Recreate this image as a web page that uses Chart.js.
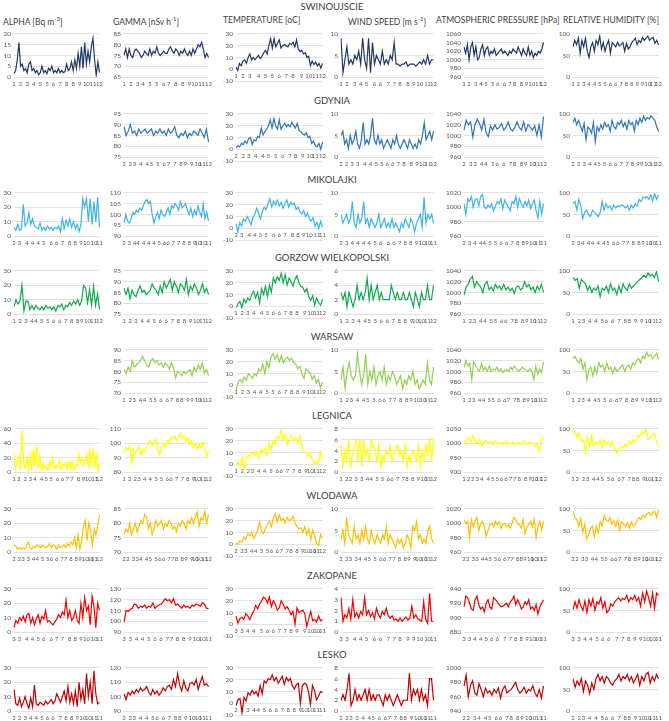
<!DOCTYPE html>
<html>
<head>
<meta charset="utf-8">
<script src="https://cdn.jsdelivr.net/npm/chart.js@4.4.1/dist/chart.umd.min.js"></script>
<style>
  body { margin: 0; background: #fff; width: 669px; height: 721px; position: relative; overflow: hidden;
         font-family: Lato, "Open Sans", sans-serif; color: #404040; }
  .hdr { position: absolute; top: 15px; font-size: 8.5px; white-space: nowrap; }
  .hdr sup { font-size: 6px; }
  .stn { position: absolute; left: 0; width: 664px; text-align: center; font-size: 9.5px; }
  canvas { position: absolute; }
</style>
</head>
<body>
<div class="hdr" style="left:3px">ALPHA [Bq m<sup>-3</sup>]</div>
<div class="hdr" style="left:113px">GAMMA [nSv h<sup>-1</sup>]</div>
<div class="hdr" style="left:223px">TEMPERATURE [oC]</div>
<div class="hdr" style="left:348px">WIND SPEED [m s<sup>-1</sup>]</div>
<div class="hdr" style="left:436px">ATMOSPHERIC PRESSURE [hPa]</div>
<div class="hdr" style="left:563px">RELATIVE HUMIDITY [%]</div>
<script>
const stations = ["SWINOUJSCIE", "GDYNIA", "MIKOLAJKI", "GORZOW WIELKOPOLSKI", "WARSAW", "LEGNICA", "WLODAWA", "ZAKOPANE", "LESKO"];
const colors = ["#203864", "#2e75b6", "#3db4e6", "#12a84e", "#92d050", "#ffff00", "#ffc000", "#f00000", "#c00000"];

// y axis [min, max, step] per column: alpha, gamma, temp, wind, pressure, humidity
const swiRanges = [[0,20,5],[65,85,5],[-10,30,10],[0,10,5],[960,1060,20],[0,100,50]];
const gdyRanges = [null,[75,95,5],[-10,30,10],[0,10,5],[960,1040,20],[0,100,50]];
const mikRanges = [[0,30,10],[90,110,5],[-10,30,10],[0,10,5],[960,1020,20],[0,100,50]];
const gorRanges = [[0,30,10],[75,95,5],[-10,30,10],[0,6,2],[960,1040,20],[0,100,50]];
const warRanges = [null,[70,90,5],[-10,30,10],[0,10,5],[960,1040,20],[0,100,50]];
const legRanges = [[0,60,20],[80,110,10],[-10,30,10],[0,8,2],[900,1050,50],[0,100,50]];
const wloRanges = [[0,30,10],[70,85,5],[-10,30,10],[0,10,5],[960,1020,20],[0,100,50]];
const zakRanges = [[0,30,10],[90,130,10],[-10,30,10],[0,4,1],[880,940,20],[0,100,50]];
const lesRanges = [[0,30,10],[90,120,10],[-10,30,10],[0,8,2],[940,1000,20],[0,100,50]];

// SWINOUJSCIE
const swiAlpha = [1.5,3,8,16,5,6,3,4,2,6,7,3,4,2,3,1,2,5,2,3,1.5,4,3,5,2,3,2,4,2,3,2,2.5,6,3,4,7,3,8,4,11,5,14,4,16,6,12,7,14,18,8,1,7,2];
const swiGamma = [75,78,74,78,75,74,77,78,77,76,74,75,77,76,75,78,75,77,76,79,76,75,76,77,76,76,78,79,77,76,78,77,75,77,76,78,76,75,77,75,78,76,78,80,79,81,78,74,76,74];
const swiTemp = [2,-1,5,3,7,8,5,10,13,8,10,8,10,12,9,11,14,16,13,20,26,18,26,19,22,25,18,20,21,20,19,22,21,23,19,25,17,15,16,13,14,10,11,3,7,4,6,3,5,1,5];
const swiWind = [9,1,4,7,3,4,3,5,4,6,3,9,4,2,9,1,8,3,5,4,3,6,3,4,3,5,4,8,3,3,2.5,3,3,3.5,2.5,3,3,3,2.5,3,3.5,3,4,3,5,3,4,4];
const swiPress = [1030,1015,1035,1000,1030,1040,1010,1030,1000,1005,1025,1035,1010,1025,1030,1010,1020,1015,1025,1010,1015,1020,1025,1015,1020,1015,1010,1020,1015,1025,1020,1015,1030,1020,1010,1025,1015,1010,1030,1010,1020,1005,1015,1010,1020,1015,1025,1040];
const swiHum = [70,85,75,90,55,85,70,90,60,45,70,80,60,85,75,95,65,80,60,75,85,55,80,75,70,80,72,75,80,60,78,65,70,80,85,90,75,85,80,92,85,90,95,85,90,92,78,85,75];
const swiAlphaX = "1 2 3 4 5 5 6 7 8 8 9 10 11 12";
const swiGammaX = "1 2 3 4 5 5 6 7 8 8 9 10 11 12";
const swiTempX = "1 2 3 4 5 5 6 7 8 9 10 11 12";
const swiWindX = "1 2 3 4 5 6 6 7 7 8 8 9 10 11 12";
const swiPressX = "1 2 3 4 5 5 6 6 7 8 8 9 10 11 12";
const swiHumX = "1 2 3 4 4 5 5 6 6 7 8 8 9 9 10 11 12";

// GDYNIA
const gdyGamma = [89,85,87,90,86,87,85,88,86,87,88,86,87,88,85,87,86,88,86,87,85,88,86,87,89,85,84,86,85,87,84,86,85,87,86,85,88,86,84,88,82];
const gdyTemp = [1,3,2,5,4,7,5,9,10,4,8,7,11,10,18,12,15,17,20,25,18,26,20,17,25,17,20,22,19,21,19,23,20,18,22,16,15,13,12,14,10,11,5,7,3,2,5,0,6];
const gdyWind = [5,6,3,4,2,5,3,4,6,3,2,4,8,3,4,3,5,9,4,3,5,3,4,2,3,4,3,2,4,3,5,3,2,3,4,3,2,4,3,2,3,2,4,3,5,8,4,5,6,4,6];
const gdyPress = [1010,1028,1020,1025,997,1020,1030,1022,1010,1030,1005,998,1018,1010,1020,1012,1015,1022,1010,1015,1025,1012,1008,1015,1025,1015,1010,1025,1008,1020,1015,1010,1018,1000,1020,997,1035];
const gdyHum = [80,90,75,85,72,60,78,40,70,65,55,80,36,70,60,75,65,80,70,75,60,85,70,65,80,75,85,70,80,65,85,75,80,60,85,75,90,80,95,85,92,88,95,90,85,70,60];
const gdyGammaX = "2 2 3 4 4 5 5 6 7 7 8 9 9 10 11 12";
const gdyTempX = "2 2 3 4 4 5 5 6 7 8 9 10 11 12";
const gdyWindX = "2 2 3 3 4 4 5 5 6 6 7 8 8 9 10 11 12";
const gdyPressX = "2 3 3 4 4 5 6 6 7 8 8 9 10 11 12";
const gdyHumX = "2 2 3 4 4 5 5 6 6 7 7 8 9 9 10 11 12";

// MIKOLAJKI
const mikAlpha = [6,4,8,4,5,22,7,9,16,8,12,7,6,5,9,4,6,4,7,5,6,4,6,5,7,3,12,5,11,7,12,6,10,5,8,3,8,26,20,26,10,26,8,24,10,27,6];
const mikGamma = [96,100,97,96,98,101,100,102,101,103,102,104,106,107,105,106,100,96,99,101,98,102,100,99,101,103,100,104,103,105,104,102,106,103,104,105,102,100,103,99,102,100,104,101,99,105,98,101,97];
const mikTemp = [4,-3,5,2,8,6,10,7,3,9,12,17,13,8,14,18,16,21,25,18,23,20,24,19,22,17,21,24,18,22,20,21,16,18,14,12,15,10,13,8,6,9,2,5,0,6,1];
const mikWind = [5,3,4,5,3,4,8,3,2,5,3,4,8,3,4,2,4,3,2,3,5,2,3,4,2,3,2,4,2,3,2,1,3,2,4,3,2,4,3,1,3,4,5,2,9,3,5,4,5,3];
const mikPress = [1005,990,1012,1008,1015,1000,1010,1012,1002,1015,1018,1000,998,1003,1000,1005,995,1002,1008,1005,1012,998,1010,1005,1000,995,1008,1005,1015,1000,1012,1005,1000,1008,1002,1010,998,1005,1010,995,985,1008,990,1005];
const mikHum = [75,80,60,85,70,40,55,60,50,45,60,55,50,45,55,80,60,75,65,70,60,72,65,70,68,72,70,65,70,60,72,65,75,70,85,80,90,88,92,85,95,82,98,85,95];
const mikAlphaX = "2 3 4 4 4 5 6 6 7 8 8 9 10 10 11";
const mikGammaX = "2 3 4 4 4 4 4 5 6 6 7 7 8 8 9 10 10 11";
const mikTempX = "2 3 4 4 5 5 6 6 7 8 8 9 10 11 11";
const mikWindX = "2 3 4 4 4 4 5 6 6 6 7 8 8 9 10 10 11";
const mikPressX = "2 3 4 4 4 5 5 6 6 7 8 8 9 10 11 11";
const mikHumX = "2 3 4 4 4 4 4 5 6 6 7 7 8 8 9 10 10 11";

// GORZOW WIELKOPOLSKI
const gorAlpha = [5,10,7,9,20,2,9,9,3,6,3,6,4,3,5,3,6,4,5,3,5,2,6,5,7,3,6,5,8,6,9,7,10,6,9,20,18,8,17,6,19,6,14,3];
const gorGamma = [87,84,87,82,86,84,83,86,88,85,86,84,85,86,89,87,86,84,88,85,90,87,89,91,86,90,88,85,89,88,86,91,84,88,86,89,87,84,86,89,85,87,84];
const gorTemp = [-1,2,4,-1,6,3,7,5,10,13,7,12,3,15,10,17,8,18,12,24,20,25,22,28,20,27,18,24,21,17,23,26,20,17,16,12,15,8,5,9,1,7,3,1,6];
const gorWind = [3,2,3,1,3,2,1,2,4,2,3,2,3,5,2,4,2,3,4,2,3,2,2,2,2,4,3,2,3,2,2,3,2,2,3,2,1,3,2,1,3,2,2,4,2,2,4];
const gorPress = [995,1010,1015,1025,1030,1010,1020,1015,1010,1000,1015,1020,1005,1010,1003,1015,1008,1012,1005,1015,1005,1010,1003,1008,998,1010,1012,1005,1008,1020,1010,1015,1005,1010,1000,1012,1005,1015,1000];
const gorHum = [85,78,82,60,80,75,70,55,65,50,60,55,65,40,60,55,65,50,70,55,60,45,65,50,70,60,55,70,60,65,70,75,80,85,90,85,95,88,92,85,98,75];
const gorAlphaX = "1 2 3 4 4 5 5 6 6 7 8 8 9 10 11 12";
const gorGammaX = "1 2 3 4 4 5 6 6 7 8 8 9 10 11 12";
const gorTempX = "1 2 3 4 4 5 6 6 7 8 8 9 10 11 12";
const gorWindX = "1 2 3 4 4 5 5 6 6 7 8 8 9 10 10 11 12";
const gorPressX = "1 2 3 4 4 5 5 6 6 7 8 8 9 10 11 12";
const gorHumX = "1 2 3 4 4 5 6 6 7 8 8 9 9 10 11 12";

// WARSAW
const warGamma = [81,79,82,80,85,82,83,84,85,87,85,83,82,85,86,84,85,83,84,82,84,83,81,84,82,77,80,79,78,80,79,80,81,78,82,80,83,81,84,79,81,78];
const warTemp = [-5,3,5,2,7,4,10,8,6,10,8,14,12,18,10,20,15,24,27,22,26,20,25,19,22,24,21,23,19,18,14,16,10,6,14,12,10,5,8,2,5,-2,3];
const warWind = [3,6,1,5,7,4,3,4,9,5,2,4,9,2,5,3,6,2,4,5,3,6,2,4,3,5,4,2,3,4,1,3,2,4,3,5,2,3,1,2,3,2,7,3,2,6];
const warPress = [1008,1020,1010,1015,985,1018,1010,1005,1000,1015,1002,1008,1000,1010,1000,1005,1002,1008,1000,1005,998,1002,1003,1000,1008,1003,1010,1005,1000,1003,1008,1005,1002,1000,1005,1000,985,1010,995,1005,998,1018];
const warHum = [80,85,75,70,80,55,70,30,55,60,40,60,45,70,60,65,50,70,55,60,45,60,50,55,60,65,50,60,65,55,70,65,75,80,70,85,80,95,85,90,80,85,92,78];
const warGammaX = "1 2 3 4 4 5 5 6 6 7 8 8 9 9 10 11 12";
const warTempX = "1 2 3 4 4 5 5 6 7 8 8 9 10 11 12";
const warWindX = "1 2 3 4 4 5 5 6 6 7 7 8 8 9 10 10 11 12";
const warPressX = "1 2 3 4 4 5 5 6 6 7 7 8 8 9 10 11 12";
const warHumX = "1 2 3 4 4 5 5 6 6 7 8 8 9 9 10 11 12";

// LEGNICA
const legAlpha = [28,5,15,22,2,58,12,5,20,3,25,3,32,8,38,5,22,3,12,5,9,3,14,7,20,5,10,6,15,4,12,8,13,4,14,5,16,3,10,8,25,12,20,8,14,25,8,30,10,33,5,28,2,12];
const legGamma = [93,97,95,98,86,96,93,95,98,92,96,94,97,100,102,98,101,103,96,92,98,100,97,102,101,104,103,105,102,104,107,103,105,101,104,99,102,97,100,96,99,97,101,95,91,95];
const legTemp = [-1,2,-2,6,-4,5,8,6,10,7,11,5,13,10,14,8,18,12,20,17,24,22,29,20,25,17,22,24,20,23,18,24,16,11,9,7,10,4,1,3,0,11,4];
const legWind = [5,1,4,2,6,1,3,5,6,2,6,1,6,3,4,2,6,5,4,2,5,1,3,2,4,3,5,2,3,4,5,3,4,2,5,1,3,2,4,3,2,5,1,4,2,5,3,6,2,6];
const legPress = [1010,1000,1020,1005,1025,1010,1000,1015,990,1005,1010,1000,1005,995,1010,1000,998,1003,995,1008,1000,998,1005,995,1002,1000,995,1010,1003,995,1005,998,990,1000,975,1010,1025];
const legHum = [90,95,80,90,70,75,45,80,60,85,60,70,65,75,55,75,65,72,60,70,55,45,50,60,55,65,60,72,65,75,70,85,80,95,90,100,75,80,85,90,70,60];
const legAlphaX = "1 2 2 3 4 4 5 5 6 6 7 7 8 9 10 11 12";
const legGammaX = "1 2 2 3 4 4 5 5 6 6 7 7 8 9 10 11 12";
const legTempX = "1 2 2 3 4 4 5 6 6 7 7 8 9 10 11 12";
const legWindX = "1 2 2 3 3 4 4 5 5 6 6 7 7 8 8 9 10 11 12";
const legPressX = "1 2 2 3 4 4 5 5 6 6 7 7 8 8 9 10 11 12";
const legHumX = "1 2 2 3 4 4 5 5 6 6 7 7 8 8 9 10 11 12";

// WLODAWA
const wloAlpha = [5,4,2,3,2,3,2,4,7,3,2,4,3,5,4,3,5,4,3,4,6,3,5,4,2,5,3,4,5,3,6,4,7,5,10,3,12,2,8,18,22,8,20,15,5,16,12,18,26];
const wloGamma = [76,78,77,80,76,78,80,77,79,81,80,83,82,78,80,76,78,81,79,80,81,78,80,79,81,80,78,79,77,80,79,81,80,78,81,80,82,80,82,84,79,82,81,84,80,83];
const wloTemp = [1,0,3,2,6,4,9,7,10,5,8,12,19,11,9,14,17,20,15,22,26,19,25,20,22,18,23,20,21,24,18,15,13,14,10,15,8,13,4,12,7,1,-1,8,5];
const wloWind = [3,5,2,8,4,3,2,6,3,4,2,5,3,6,3,2,5,3,2,4,3,2,4,3,6,2,4,3,2,1,3,2,3,1,2,4,3,1,6,5,7,3,4,2,3,2,5,6,3,2];
const wloPress = [1005,1000,1003,980,1005,995,1003,1008,990,1000,1003,995,982,990,998,1000,995,1003,998,1002,993,998,1000,995,998,993,1000,1008,1005,1000,998,993,1005,985,995,998,1003,995,1005,980,995,1003,990,1003];
const wloHum = [95,80,75,60,78,45,65,30,40,55,60,35,60,45,70,60,85,75,70,80,65,72,60,75,50,70,65,60,68,55,70,60,65,72,80,75,85,80,88,92,85,90,95,80,98];
const wloAlphaX = "2 2 3 3 4 4 5 5 6 6 7 7 8 8 9 10 10 11 12";
const wloGammaX = "2 2 3 3 4 4 5 5 6 6 7 7 8 8 9 9 10 10 11 12";
const wloTempX = "2 2 3 4 4 5 5 6 6 7 7 8 8 9 10 10 11 12";
const wloWindX = "2 2 3 3 4 4 5 5 6 6 7 7 8 8 9 9 10 10 11 12";
const wloPressX = "2 2 3 3 4 4 5 5 6 6 7 7 8 8 9 10 10 11 12";
const wloHumX = "2 2 3 3 4 4 5 5 6 6 7 7 8 8 9 10 10 11 12";

// ZAKOPANE
const zakAlpha = [3,8,6,10,8,11,7,12,13,6,10,5,9,12,6,11,9,15,7,8,6,5,7,9,12,10,14,12,22,10,15,8,10,15,8,6,20,10,24,15,18,5,25,18,3,20,15];
const zakGamma = [99,110,109,111,112,116,115,112,114,113,115,112,114,113,117,112,114,115,116,118,121,119,120,117,121,115,116,114,112,115,113,114,112,115,114,116,115,114,117,116,112,112];
const zakTemp = [7,1,5,6,4,9,7,4,8,11,16,13,17,20,23,22,18,23,15,20,17,12,14,20,17,13,15,12,8,11,0,14,10,11,12,9,-2,5,11,3,4,2,7,3,4];
const zakWind = [3.2,1,1.6,1.3,2.2,1.2,3,1.4,1.8,1.3,1.9,1.6,3.2,1.6,2,1.4,1.8,1.2,2.2,1.6,1.3,1.9,1.6,2.2,1.5,1.3,1.5,1.1,1.2,1,1.3,1,1.2,1.4,1.1,1.3,2.4,1.3,1.6,1.2,1.1,1,2.8,1.2,0.8,3.6,1,1];
const zakPress = [915,930,928,920,912,910,925,930,918,912,915,908,920,925,915,912,928,925,922,918,915,916,918,920,915,922,925,930,918,925,920,912,915,922,918,925,912,915,910,918,905,915,920,925];
const zakHum = [52,70,55,75,60,50,72,45,75,60,78,50,70,65,80,55,70,45,50,65,60,70,75,80,72,78,75,85,70,80,75,85,72,80,60,90,70,95,80,60,90,55,90,85];
const zakAlphaX = "3 3 4 4 5 6 6 7 7 8 8 9 10 10 11";
const zakGammaX = "3 3 4 4 5 6 6 7 7 8 8 9 10 10 11";
const zakTempX = "3 3 4 4 5 6 6 7 7 8 9 9 10 10 11";
const zakWindX = "3 3 4 4 5 6 6 7 7 8 9 9 10 10 11";
const zakPressX = "3 3 4 4 5 6 6 7 7 8 8 9 10 10 11";
const zakHumX = "3 3 4 4 5 6 6 7 7 8 9 9 10 10 11";

// LESKO
const lesAlpha = [15,5,4,9,3,6,10,5,2,9,3,18,5,4,6,5,4,7,5,6,8,5,7,12,9,6,10,14,7,17,6,12,5,14,3,20,8,15,5,26,10,20,5,28,12,5,6];
const lesGamma = [102,98,103,101,104,102,105,103,106,104,105,107,103,101,105,102,104,101,103,106,104,107,108,105,112,107,116,108,104,111,106,104,109,110,108,112,105,110,114,108,109,107];
const lesTemp = [-2,3,4,-8,5,2,9,7,11,8,10,6,15,8,19,17,21,20,24,19,22,17,20,23,16,22,19,21,15,12,16,17,0,15,17,16,10,-1,15,11,3,6,10,9];
const lesWind = [2,3,2,4,7,1,2,4,2,3,2,3,4,2,4,2,3,2,3,3,2,1,3,2,3,2,1,2,3,2,1,2,2,2,7,2,4,3,4,2,4,2,3,1,6,6,2];
const lesPress = [975,990,960,975,982,965,962,978,970,960,972,965,968,962,970,965,972,958,970,975,965,968,970,975,980,970,965,968,973,965,970,968,975,965,960,970,958,975];
const lesHum = [75,55,70,60,75,45,70,60,40,65,50,75,85,70,80,65,80,75,65,60,70,75,85,70,80,75,85,70,80,65,75,85,60,80,70,85,90,65,80,70,85,75];
const lesAlphaX = "2 2 3 4 4 5 6 6 7 8 8 9 10 10 11 11";
const lesGammaX = "2 2 3 4 4 5 6 6 7 8 8 9 10 10 11 11";
const lesTempX = "2 3 3 4 4 5 6 6 7 8 8 9 10 10 11 11";
const lesWindX = "2 2 3 3 4 4 5 6 6 7 7 8 8 9 10 10 11 11";
const lesPressX = "2 2 3 4 4 5 6 6 7 8 8 9 10 10 11 11";
const lesHumX = "2 2 3 4 4 5 6 6 7 8 8 9 10 10 11 11";

// grid of small charts: one row per station
const rows = [
  [swiRanges, [swiAlpha, swiGamma, swiTemp, swiWind, swiPress, swiHum], [swiAlphaX, swiGammaX, swiTempX, swiWindX, swiPressX, swiHumX]],
  [gdyRanges, [null, gdyGamma, gdyTemp, gdyWind, gdyPress, gdyHum], [null, gdyGammaX, gdyTempX, gdyWindX, gdyPressX, gdyHumX]],
  [mikRanges, [mikAlpha, mikGamma, mikTemp, mikWind, mikPress, mikHum], [mikAlphaX, mikGammaX, mikTempX, mikWindX, mikPressX, mikHumX]],
  [gorRanges, [gorAlpha, gorGamma, gorTemp, gorWind, gorPress, gorHum], [gorAlphaX, gorGammaX, gorTempX, gorWindX, gorPressX, gorHumX]],
  [warRanges, [null, warGamma, warTemp, warWind, warPress, warHum], [null, warGammaX, warTempX, warWindX, warPressX, warHumX]],
  [legRanges, [legAlpha, legGamma, legTemp, legWind, legPress, legHum], [legAlphaX, legGammaX, legTempX, legWindX, legPressX, legHumX]],
  [wloRanges, [wloAlpha, wloGamma, wloTemp, wloWind, wloPress, wloHum], [wloAlphaX, wloGammaX, wloTempX, wloWindX, wloPressX, wloHumX]],
  [zakRanges, [zakAlpha, zakGamma, zakTemp, zakWind, zakPress, zakHum], [zakAlphaX, zakGammaX, zakTempX, zakWindX, zakPressX, zakHumX]],
  [lesRanges, [lesAlpha, lesGamma, lesTemp, lesWind, lesPress, lesHum], [lesAlphaX, lesGammaX, lesTempX, lesWindX, lesPressX, lesHumX]],
];

const colLeft = [0, 108, 218, 330, 440, 556];
const colWidth = [106, 107, 111, 110, 110, 109];
const axisWidth = [14, 16, 18, 11, 24, 17];
const rowTop = [31, 111, 190, 268, 347, 426, 506, 586, 665];
const chartHeight = 61;

function smallChart(row, col, values, tickText, range, color) {
  const canvas = document.createElement("canvas");
  canvas.width = colWidth[col];
  canvas.height = chartHeight;
  canvas.style.left = colLeft[col] + "px";
  canvas.style.top = (rowTop[row] - 4) + "px";
  document.body.appendChild(canvas);

  // spread the month labels evenly over the categories
  const ticks = tickText.split(" ");
  const labels = values.map(() => "");
  ticks.forEach((t, j) => {
    labels[Math.round(j * (values.length - 1) / (ticks.length - 1))] = t;
  });

  // temperature charts carry their month labels on the zero line
  const temp = col === 2;
  new Chart(canvas, {
    type: "line",
    data: {
      labels: labels,
      datasets: [{ data: values, borderColor: color, borderWidth: 1.2, pointRadius: 0, tension: 0, fill: false }],
    },
    options: {
      responsive: false,
      animation: false,
      events: [],
      layout: { padding: { right: 2, top: 0, bottom: 0 } },
      plugins: { legend: { display: false }, tooltip: { enabled: false } },
      scales: {
        x: {
          position: temp ? { y: 0 } : "bottom",
          grid: { display: false, drawTicks: false },
          border: { display: false },
          ticks: { autoSkip: false, maxRotation: 0, padding: 3, color: "#595959", font: { size: 6, family: "Lato" } },
          afterFit: (s) => { s.height = temp ? 4 : 11; },
        },
        y: {
          min: range[0],
          max: range[1],
          ticks: {
            stepSize: range[2], autoSkip: false, padding: 3, color: "#595959", font: { size: 6.5, family: "Lato" },
            callback: (v) => String(v),
          },
          grid: { color: "#d9d9d9", lineWidth: 0.8, drawTicks: false },
          border: { display: false },
          afterFit: (s) => { s.width = axisWidth[col]; },
        },
      },
    },
  });
}

rows.forEach((r, i) => {
  const title = document.createElement("div");
  title.className = "stn";
  title.style.top = (i === 0 ? 1 : rowTop[i] - 16) + "px";
  title.textContent = stations[i];
  document.body.appendChild(title);
  r[1].forEach((values, c) => {
    if (values) smallChart(i, c, values, r[2][c], r[0][c], colors[i]);
  });
});
</script>
</body>
</html>
